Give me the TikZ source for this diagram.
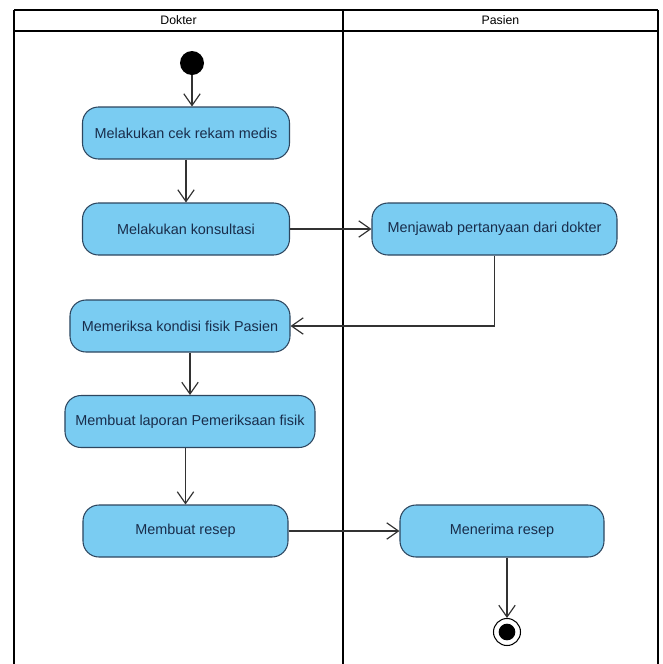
\documentclass[tikz,border=0pt]{standalone}
\usepackage{fontspec}
\setmainfont{Liberation Sans}
\usetikzlibrary{arrows.meta}
\definecolor{actfill}{RGB}{122,204,242}
\definecolor{actline}{RGB}{45,70,95}
\definecolor{acttext}{RGB}{25,45,75}
\definecolor{flowline}{RGB}{50,50,50}
\tikzset{
	activity/.style={draw=actline, line width=0.9pt, fill=actfill, rounded corners=0.48cm,
		minimum height=1.56cm, inner xsep=2pt, text=acttext, align=center,
		font=\fontsize{12.3}{14}\selectfont},
	initstate/.style={circle, fill=black, minimum size=0.72cm, inner sep=0pt},
	finalstate/.style={circle, draw=black, line width=0.9pt, fill=white, minimum size=0.81cm, inner sep=0pt,
		path picture={\fill[black] (path picture bounding box.center) circle (0.25cm);}},
	flow/.style={draw=flowline, line width=1pt, -{Straight Barb[length=10pt,width=14pt,line width=1pt]}},
	lane/.style={line width=2pt, draw=black},
	lanetitle/.style={font=\fontsize{10.5}{12}\selectfont}
}
\begin{document}
\begin{tikzpicture}[x=0.03cm, y=-0.03cm]
	\useasboundingbox[fill=white] (0,0) rectangle (662,664);
	% swimlanes
	\foreach \x in {14,343,658}{
		\draw[lane] (\x,10) -- (\x,664);}
	\foreach \y in {10,31}{
		\draw[lane] (14,\y) -- (658,\y);}
	\node[lanetitle] (dokter) at (178.5,20.5) {Dokter};
	\node[lanetitle] (pasien) at (500.5,20.5) {Pasien};
	% activities
	\node[initstate] (start) at (192,63) {};
	\node[activity, minimum width=6.21cm] (cek) at (186,133) {Melakukan cek rekam medis};
	\node[activity, minimum width=6.21cm] (konsul) at (186,229) {Melakukan konsultasi};
	\node[activity, minimum width=7.35cm] (jawab) at (494.5,229) {Menjawab pertanyaan dari dokter};
	\node[activity, minimum width=6.6cm] (periksa) at (180,326) {Memeriksa kondisi fisik Pasien};
	\node[activity, minimum width=7.5cm] (laporan) at (190,421.5) {Membuat laporan Pemeriksaan fisik};
	\node[activity, minimum width=6.15cm] (resep) at (185.5,531) {Membuat resep};
	\node[activity, minimum width=6.12cm] (terima) at (502,531) {Menerima resep};
	\node[finalstate] (end) at (507,632) {};
	% flows
	\draw[flow] (start) -- (start |- cek.north);
	\draw[flow] (cek) -- (konsul);
	\draw[flow] (konsul) -- (jawab);
	\draw[flow] (jawab.south) |- (periksa.east);
	\draw[flow] (periksa.south -| laporan.north) -- (laporan.north);
	\draw[flow] (laporan.south -| resep.north) -- (resep.north);
	\draw[flow] (resep) -- (terima);
	\draw[flow] (end |- terima.south) -- (end);
\end{tikzpicture}
\end{document}
